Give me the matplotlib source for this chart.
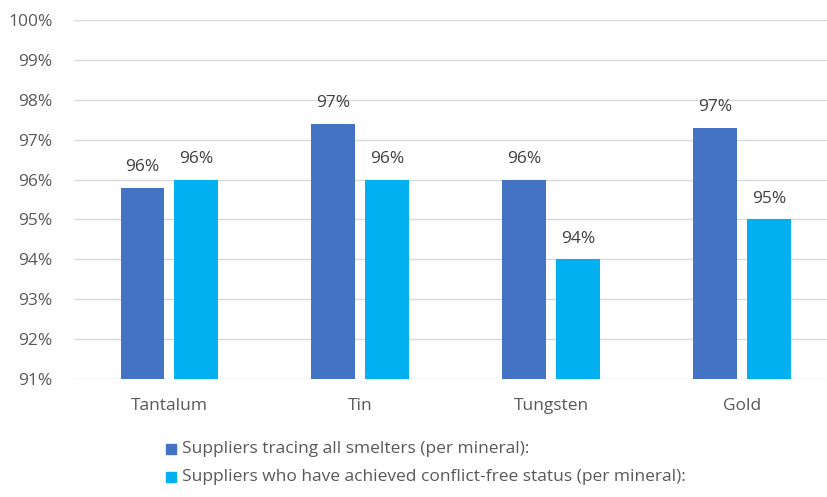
import matplotlib
matplotlib.use("Agg")
import matplotlib.pyplot as plt
import numpy as np
from matplotlib.patches import Rectangle

minerals = ["Tantalum", "Tin", "Tungsten", "Gold"]
tracing = [95.8, 97.4, 96.0, 97.3]
conflict_free = [96.0, 96.0, 94.0, 95.0]
series_names = [
    "Suppliers tracing all smelters (per mineral):",
    "Suppliers who have achieved conflict-free status (per mineral):",
]
yticks = list(range(91, 101))

DARK = "#4472C4"
LIGHT = "#00B0F0"
GREY_TEXT = "#595959"
GRID = "#d9d9d9"
FS = 12.5

plt.rcParams["font.family"] = ["Open Sans", "DejaVu Sans"]

fig = plt.figure(figsize=(8.28, 4.97), dpi=100)
ax = fig.add_axes([74 / 828, (497 - 378.7) / 497, 754 / 828, (378.7 - 20.3) / 497])

x = np.arange(len(minerals))
width = 0.23
offset = 0.141
bars1 = ax.bar(x - offset, tracing, width, color=DARK, label=series_names[0], zorder=2)
bars2 = ax.bar(x + offset, conflict_free, width, color=LIGHT, label=series_names[1], zorder=2)

for bars, vals in ((bars1, tracing), (bars2, conflict_free)):
    for b, v in zip(bars, vals):
        ax.annotate(f"{v:.0f}%", (b.get_x() + b.get_width() / 2, v),
                    xytext=(0, 9), textcoords="offset points",
                    ha="center", va="bottom", fontsize=FS, color="#404040")

ax.set_ylim(91, 100)
ax.set_xlim(-0.5, 3.45)
ax.set_yticks(yticks)
ax.set_yticklabels([f"{t}%" for t in yticks])
ax.set_xticks(x)
ax.set_xticklabels(minerals)
ax.tick_params(axis="both", length=0, labelsize=FS, colors=GREY_TEXT)
ax.tick_params(axis="y", pad=15.5)
ax.tick_params(axis="x", pad=14)
ax.grid(axis="y", color=GRID, linewidth=1, zorder=0)
for s in ax.spines.values():
    s.set_visible(False)

# legend, stacked and left aligned under the plot
for i, (name, col) in enumerate(zip(series_names, (DARK, LIGHT))):
    ypix = 449 + i * 28
    fig.patches.append(Rectangle((166 / 828, (497 - ypix - 5) / 497), 10 / 828, 10 / 497,
                                 transform=fig.transFigure, color=col, figure=fig))
    fig.text(182 / 828, (497 - ypix) / 497, name, ha="left", va="center",
             fontsize=FS, color=GREY_TEXT)

fig.savefig("out.png", dpi=100)
